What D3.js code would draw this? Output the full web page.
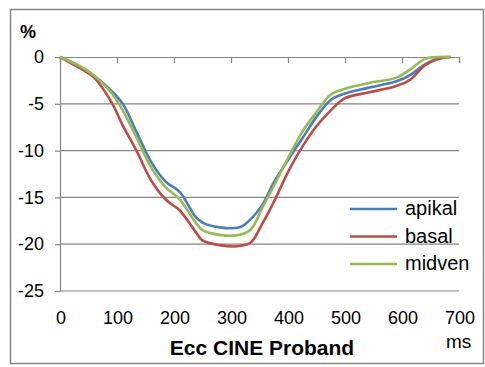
<!DOCTYPE html>
<html>
<head>
<meta charset="utf-8">
<script src="https://cdn.jsdelivr.net/npm/d3@7"></script>
<style>
  body { margin: 0; background: #fff; }
  svg { display: block; font-family: "Liberation Sans", Arial, sans-serif; }
</style>
</head>
<body>
<svg id="chart" width="485" height="367"></svg>
<script>
// time in ms
const times = [0, 35, 60, 90, 110, 135, 160, 185, 210, 237, 250, 280, 315, 335, 355, 375, 400, 425, 450, 475, 500, 540, 590, 615, 640, 665, 685];
const apikal = [0, -1.0, -2.0, -3.6, -5.0, -8.1, -11.2, -13.3, -14.4, -17.0, -17.7, -18.2, -18.2, -17.3, -15.8, -13.4, -11.0, -8.7, -6.4, -4.6, -3.9, -3.3, -2.6, -1.9, -0.8, -0.1, 0];
const basal = [0, -1.2, -2.2, -4.8, -7.3, -10.1, -13.2, -15.2, -16.4, -18.6, -19.6, -20.1, -20.2, -19.8, -17.8, -15.5, -12.3, -9.6, -7.4, -5.7, -4.4, -3.8, -3.1, -2.4, -0.9, -0.2, 0];
const midven = [0, -1.0, -2.0, -3.8, -5.7, -8.7, -11.8, -13.9, -15.2, -17.6, -18.5, -19.0, -19.0, -18.4, -16.1, -13.8, -10.8, -8.0, -5.9, -4.0, -3.4, -2.8, -2.2, -1.3, -0.2, 0, 0];

const seriesNames = ['apikal', 'basal', 'midven'];
const seriesColors = ['#4A7EBB', '#BE4B48', '#98B954'];
const xTicks = [0, 100, 200, 300, 400, 500, 600, 700];
const yTicks = [0, -5, -10, -15, -20, -25];

const series = [apikal, basal, midven].map((vals, i) => ({
  name: seriesNames[i],
  color: seriesColors[i],
  points: vals.map((v, j) => ({ t: times[j], v }))
}));

const svg = d3.select('#chart');
const grey = '#868686';

// outer frame
svg.append('rect')
  .attr('x', 10.5).attr('y', 9.5)
  .attr('width', 473).attr('height', 354)
  .attr('fill', 'none').attr('stroke', grey).attr('stroke-width', 1.5);

const x = d3.scaleLinear().domain([0, 700]).range([60, 459]);
const y = d3.scaleLinear().domain([-25, 0]).range([291, 57]);

// gridlines
svg.append('g')
  .selectAll('line')
  .data(yTicks.filter(d => d !== 0))
  .join('line')
  .attr('x1', x(0)).attr('x2', x(700))
  .attr('y1', d => y(d)).attr('y2', d => y(d))
  .attr('stroke', grey).attr('stroke-width', 1.2);

// y axis
const yAxis = svg.append('g')
  .attr('transform', `translate(${x(0)},0)`)
  .call(d3.axisLeft(y).tickValues(yTicks).tickSize(5).tickFormat(d3.format('d')));
yAxis.select('.domain').attr('stroke', grey).attr('stroke-width', 1.2);
yAxis.selectAll('.tick line').attr('stroke', grey).attr('stroke-width', 1.2);
yAxis.selectAll('.tick text')
  .attr('x', -16)
  .attr('font-size', 18).attr('fill', '#000')
  .attr('font-family', '"Liberation Sans", Arial, sans-serif')
  .text(d => d === 0 ? '0' : '-' + Math.abs(d));

// x axis along zero line, labels at the bottom
const xAxis = svg.append('g')
  .attr('transform', `translate(0,${y(0)})`)
  .call(d3.axisBottom(x).tickValues(xTicks).tickSize(6).tickFormat(''));
xAxis.select('.domain').attr('stroke', grey).attr('stroke-width', 1.2);
xAxis.selectAll('.tick line').attr('stroke', grey).attr('stroke-width', 1.2);

svg.append('g')
  .selectAll('text')
  .data(xTicks)
  .join('text')
  .attr('x', d => x(d) + 1)
  .attr('y', 324)
  .attr('text-anchor', 'middle')
  .attr('font-size', 18)
  .text(d => d);

// lines
const line = d3.line()
  .x(d => x(d.t))
  .y(d => y(d.v))
  .curve(d3.curveCatmullRom.alpha(0.5));

svg.append('g')
  .selectAll('path')
  .data(series)
  .join('path')
  .attr('d', d => line(d.points))
  .attr('fill', 'none')
  .attr('stroke', d => d.color)
  .attr('stroke-width', 2.6)
  .attr('stroke-linejoin', 'round');

// legend
const legend = svg.append('g')
  .selectAll('g')
  .data(series)
  .join('g')
  .attr('transform', (d, i) => `translate(350,${209 + i * 27.5})`);

legend.append('line')
  .attr('x1', 0).attr('x2', 47)
  .attr('stroke', d => d.color).attr('stroke-width', 2.6);

legend.append('text')
  .attr('x', 55).attr('y', 6)
  .attr('font-size', 20)
  .text(d => d.name);

// labels
svg.append('text')
  .attr('x', 20).attr('y', 38)
  .attr('font-size', 18).attr('font-weight', 'bold')
  .text('%');

svg.append('text')
  .attr('x', 262).attr('y', 355)
  .attr('text-anchor', 'middle')
  .attr('font-size', 21).attr('font-weight', 'bold')
  .text('Ecc CINE Proband');

svg.append('text')
  .attr('x', 446).attr('y', 348)
  .attr('font-size', 19)
  .text('ms');
</script>
</body>
</html>
